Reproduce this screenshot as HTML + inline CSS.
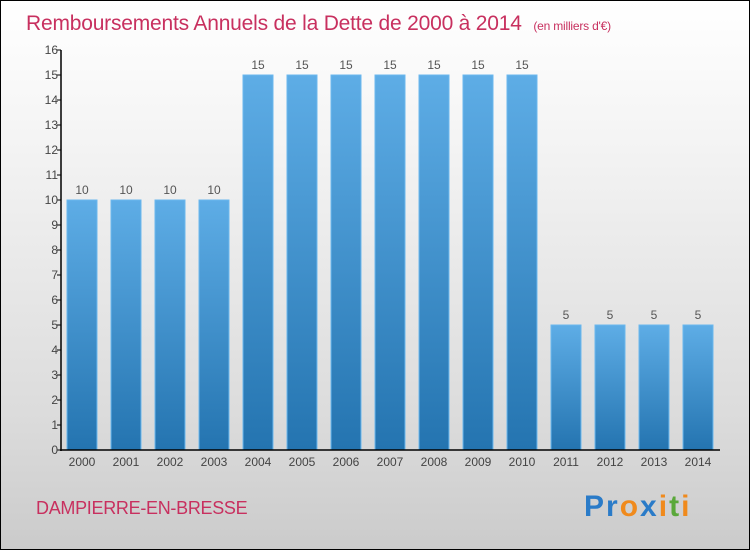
<!DOCTYPE html>
<html><head><meta charset="utf-8"><style>
body{margin:0}
#wrap{width:748px;height:548px;border:1px solid #000;background:linear-gradient(#fff 0%,#f4f4f4 25%,#dcdcdc 75%,#cbcbcb 100%);position:relative;font-family:"Liberation Sans",sans-serif;overflow:hidden}
svg{position:absolute;left:-1px;top:-1px}
</style></head><body>
<div id="wrap">
<svg width="750" height="550" id="chart">
<defs><linearGradient id="bg" x1="0" y1="0" x2="0" y2="1"><stop offset="0" stop-color="#5eade6"/><stop offset="1" stop-color="#2474b0"/></linearGradient></defs>
<text x="26" y="30" font-size="21" fill="#c8305f" letter-spacing="-0.2">Remboursements Annuels de la Dette de 2000 à 2014 <tspan font-size="12" dx="6">(en milliers d'€)</tspan></text>
<text x="36" y="514" font-size="18" fill="#c8305f" letter-spacing="-0.3">DAMPIERRE-EN-BRESSE</text>
<text x="584" y="516" font-size="30" font-weight="bold" letter-spacing="2"><tspan fill="#2a7bc8">P</tspan><tspan fill="#2a7bc8">r</tspan><tspan fill="#f08a1c">o</tspan><tspan fill="#2a7bc8">x</tspan><tspan fill="#f08a1c">i</tspan><tspan fill="#5aa83a">t</tspan><tspan fill="#f08a1c">i</tspan></text>
<g id="plot"></g>
</svg>
</div>
<script>
const years=["2000","2001","2002","2003","2004","2005","2006","2007","2008","2009","2010","2011","2012","2013","2014"];
const values=[10,10,10,10,15,15,15,15,15,15,15,5,5,5,5];
const yTicks=[0,1,2,3,4,5,6,7,8,9,10,11,12,13,14,15,16];
const NS="http://www.w3.org/2000/svg";
const g=document.getElementById('plot');
const y0=450,yTop=50,yMax=16,x0=82,step=44,bw=30;
const ys=v=>y0-(v/yMax)*(y0-yTop);
const xs=i=>x0+i*step;
function el(t,a){const e=document.createElementNS(NS,t);for(const k in a)e.setAttribute(k,a[k]);g.appendChild(e);return e;}
values.forEach((v,i)=>{
 const r=el('rect',{x:xs(i)-bw/2,y:ys(v),width:bw,height:y0-ys(v),fill:'url(#bg)',stroke:'#6bb8ee','stroke-width':1});
 
 
 const t=el('text',{x:xs(i),y:ys(v)-6,'font-size':12,fill:'#555','text-anchor':'middle'});t.textContent=v;
 
 
 const l=el('text',{x:xs(i),y:y0+16,'font-size':12,fill:'#444','text-anchor':'middle'});l.textContent=years[i];
 
 
});
yTicks.forEach(v=>{
 el('line',{x1:57,x2:61,y1:ys(v),y2:ys(v),stroke:'#000'});
 const t=el('text',{x:58,y:ys(v)+4,'font-size':12,fill:'#444','text-anchor':'end'});t.textContent=v;
 
 
});
const ya=el('line',{x1:61,x2:61,y1:yTop,y2:y0+1,stroke:'#000','stroke-width':1.5});


const xa=el('line',{x1:60,x2:720,y1:y0,y2:y0,stroke:'#000','stroke-width':1.5});


</script>
</body></html>
